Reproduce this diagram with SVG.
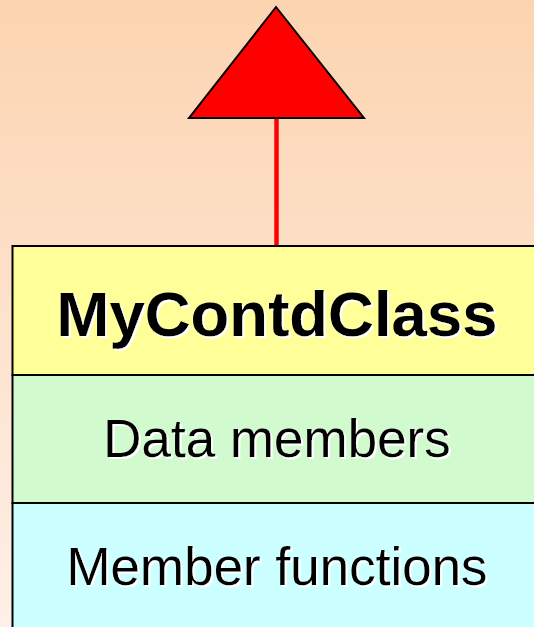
<svg xmlns="http://www.w3.org/2000/svg" width="534" height="627" viewBox="0 0 534 627">
  <defs>
    <linearGradient id="bg" x1="0" y1="0" x2="0" y2="1">
      <stop offset="0" stop-color="#FCD4B0"/>
      <stop offset="1" stop-color="#FEF0E8"/>
    </linearGradient>
    <!-- crisp white offset shadow behind label text -->
    <filter id="whiteShadow" x="-5%" y="-20%" width="110%" height="140%">
      <feDropShadow dx="2" dy="2" stdDeviation="0" flood-color="#FFFFFF" flood-opacity="1"/>
    </filter>
    <style>
      .cell { stroke: #000; stroke-width: 2; }
      .lbl { font-family: "Liberation Sans", Arial, sans-serif; text-anchor: middle; fill: #000; filter: url(#whiteShadow); }
    </style>
  </defs>
  <rect width="534" height="627" fill="url(#bg)"/>

  <g id="connectors">
    <line x1="276.5" y1="118" x2="276.5" y2="246" stroke="#FF0000" stroke-width="4.5"/>
    <polygon points="276,7 189,118 364,118" fill="#FF0000" stroke="#000" stroke-width="2" stroke-linejoin="miter"/>
  </g>

  <g id="class-box">
    <g id="name">
      <rect class="cell" x="12.5" y="246" width="530" height="129" fill="#FFFF99"/>
      <text class="lbl" x="277" y="336" font-size="63.5" font-weight="bold">MyContdClass</text>
    </g>
    <g id="data">
      <rect class="cell" x="12.5" y="375" width="530" height="128" fill="#D2FACF"/>
      <text class="lbl" x="277" y="457" font-size="53">Data members</text>
    </g>
    <g id="functions">
      <rect class="cell" x="12.5" y="503" width="530" height="140" fill="#CCFFFF"/>
      <text class="lbl" x="277" y="585" font-size="53">Member functions</text>
    </g>
  </g>
</svg>
